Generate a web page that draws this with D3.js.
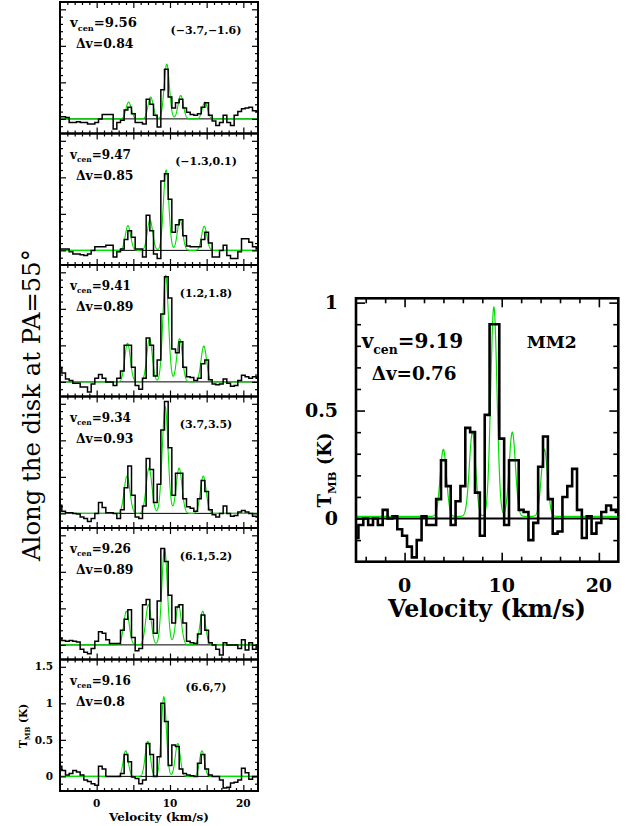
<!DOCTYPE html>
<html><head><meta charset="utf-8">
<script src="https://cdn.jsdelivr.net/npm/d3@7"></script>
<style>body{margin:0;background:#fff}svg{display:block}</style>
</head><body>
<script>
// ---------------- DATA ----------------
const velStart = -5, velStep = 0.5;            // channel grid (km/s)
const velDomain = [-5, 22];
const hfsOffsets = [-5.2, -2.2, 0, 1.9, 5.2];   // hyperfine offsets of the fit (km/s)

const panelPositions = ["(\u22123.7,\u22121.6)", "(\u22121.3,0.1)", "(1.2,1.8)", "(3.7,3.5)", "(6.1,5.2)", "(6.6,7)"];
const panelVcen = [9.56, 9.47, 9.41, 9.34, 9.26, 9.16];
const panelDv   = [0.84, 0.85, 0.89, 0.93, 0.89, 0.8];
const panelAmps = [
  [0.23, 0.30, 0.75, 0.32, 0.23],
  [0.34, 0.42, 1.10, 0.42, 0.33],
  [0.53, 0.59, 1.46, 0.59, 0.49],
  [0.51, 0.62, 1.46, 0.62, 0.51],
  [0.46, 0.55, 1.32, 0.55, 0.46],
  [0.35, 0.48, 1.09, 0.45, 0.35]
];
const spec1 = [0.03,0.03,0.02,-0.05,-0.05,-0.04,-0.05,-0.05,-0.07,-0.07,-0.05,0.0,0.06,0.06,0.06,-0.14,-0.05,-0.02,0.12,0.16,0.07,-0.05,-0.05,-0.07,0.27,0.2,0.05,-0.11,0.4,0.68,0.3,0.15,0.22,0.27,0.15,0.09,0.06,0.05,0.07,0.16,0.22,0.05,-0.03,-0.09,-0.05,0.05,-0.05,-0.09,0.05,0.1,0.14,0.15,0.16,0.11,0.1];
const spec2 = [0.02,0.02,0.02,-0.02,-0.05,-0.05,-0.06,-0.07,-0.05,0.0,0.05,0.05,0.05,0.07,0.07,-0.09,-0.02,0.02,0.15,0.27,0.18,0.02,0.02,-0.09,0.48,0.27,-0.05,-0.11,0.95,1.05,0.7,0.25,0.35,0.42,0.2,0.06,0.05,0.05,0.05,0.15,0.25,0.1,-0.09,-0.09,0.0,0.07,-0.07,-0.11,-0.11,-0.02,0.16,0.16,0.11,0.05,0.02];
const spec3 = [0.2,0.12,0.04,0.02,-0.02,-0.02,-0.07,-0.07,-0.14,-0.03,0.05,0.1,0.05,0.0,0.0,-0.05,0.05,0.15,0.5,0.5,0.2,-0.05,-0.1,0.05,0.6,0.5,0.08,0.3,0.93,1.44,1.15,0.45,0.4,0.55,0.2,0.07,0.06,0.02,0.05,0.25,0.3,0.03,-0.03,-0.04,-0.03,0.04,-0.02,-0.06,-0.05,0.02,0.09,0.07,0.05,0.07,0.05];
const spec4 = [0.11,0.03,0.01,0.01,0.0,-0.01,-0.05,-0.07,-0.11,-0.07,0.0,0.15,0.08,0.01,0.01,0.0,-0.07,0.05,0.35,0.65,0.25,-0.05,-0.07,0.1,0.75,0.6,0.15,0.4,1.14,1.53,0.9,0.25,0.55,0.55,0.2,0.09,0.07,0.03,0.2,0.45,0.3,0.05,-0.02,-0.05,0.0,0.1,0.0,-0.04,-0.03,0.02,0.04,0.02,0.0,-0.04,-0.05];
const spec5 = [0.09,0.06,0.05,0.06,0.05,0.04,-0.06,-0.1,-0.12,-0.05,0.05,0.18,0.16,0.07,0.02,0.02,0.02,0.2,0.35,0.48,0.1,-0.08,-0.05,0.55,0.62,0.35,0.16,0.6,1.32,1.14,0.68,0.3,0.52,0.55,0.3,0.05,0.03,0.02,0.15,0.41,0.2,0.03,0.0,-0.06,-0.14,0.03,0.0,0.0,0.0,-0.05,0.07,-0.07,0.03,-0.06,0.0];
const spec6 = [0.14,0.08,0.02,0.04,0.08,0.06,0.02,-0.05,-0.07,-0.1,-0.12,0.14,0.1,0.0,0.0,0.0,0.0,0.04,0.3,0.2,-0.01,-0.03,-0.1,-0.05,0.45,0.3,0.0,0.27,1.0,0.75,0.15,0.43,0.41,0.1,0.04,0.02,0.01,0.0,0.18,0.3,0.1,0.02,0.0,0.0,-0.05,-0.16,-0.15,-0.09,-0.08,-0.05,0.11,0.05,-0.04,0.0,0.0];
const panelSpectra = [spec1, spec2, spec3, spec4, spec5, spec6];

const mm2Name = "MM2";
const mm2Vcen = 9.19, mm2Dv = 0.76, mm2Base = 0.01;
const mm2Amps = [0.31, 0.39, 0.97, 0.39, 0.31];
const mm2Spec = [-0.09,-0.03,0.0,-0.03,0.0,-0.03,0.04,0.0,0.01,-0.05,-0.08,-0.13,-0.18,-0.1,0.01,-0.03,-0.03,0.09,0.27,0.15,-0.03,0.08,0.15,0.42,0.4,0.12,-0.08,0.48,0.9,0.9,0.37,-0.03,0.27,0.27,0.04,0.03,-0.1,-0.02,0.24,0.38,0.09,-0.07,-0.06,0.1,0.15,0.23,0.04,-0.09,0.01,-0.07,-0.02,0.03,0.06,0.04,0.03];

const leftYTickLabels = ["0", "0.5", "1", "1.5"];
const xTickLabels = ["0", "10", "20"];
const mm2YTickLabels = ["0", "0.5", "1"];
const sideTitle = "Along the disk at PA=55\u00b0";

// ---------------- DRAW ----------------
const W = 635, H = 826;
const FONT = "'DejaVu Serif', serif";
const GREEN = "#00e000";
const svg = d3.select("body").append("svg").attr("width", W).attr("height", H);
let clipId = 0;

function model(vc, w, amps, base) {
  return v => base + d3.sum(hfsOffsets, (o, k) => amps[k] * Math.exp(-4 * Math.LN2 * ((v - vc - o) / w) ** 2));
}

function fitFont(sel, target) {
  const len = sel.node().getComputedTextLength();
  const fs = parseFloat(sel.attr("font-size"));
  sel.attr("font-size", fs * target / len);
  return fs * target / len;
}

function drawPanel(c) {
  const x = d3.scaleLinear().domain(velDomain).range([c.x0, c.x1]);
  const y = d3.scaleLinear().domain(c.ydom).range([c.y1, c.y0]);
  const g = svg.append("g");
  const id = "clip" + (clipId++);
  svg.append("clipPath").attr("id", id).append("rect")
    .attr("x", c.x0).attr("y", c.y0).attr("width", c.x1 - c.x0).attr("height", c.y1 - c.y0);
  const inner = g.append("g").attr("clip-path", `url(#${id})`);
  // zero line
  inner.append("line").attr("x1", c.x0).attr("x2", c.x1).attr("y1", y(0)).attr("y2", y(0))
    .attr("stroke", "#000").attr("stroke-width", c.zeroW);
  // model fit
  const f = model(c.vc, c.w, c.amps, c.base);
  const vs = d3.range(velDomain[0], velDomain[1] + 0.001, 0.02);
  inner.append("path").datum(vs)
    .attr("d", d3.line().x(v => x(v)).y(v => y(f(v))))
    .attr("fill", "none").attr("stroke", GREEN).attr("stroke-width", c.greenW);
  // observed spectrum
  const pts = c.spec.map((t, i) => [velStart + i * velStep, t]);
  inner.append("path").datum(pts)
    .attr("d", d3.line().curve(d3.curveStep).x(d => x(d[0])).y(d => y(d[1])))
    .attr("fill", "none").attr("stroke", "#000").attr("stroke-width", c.blackW)
    .attr("stroke-linejoin", "miter");
  // ticks
  const tickW = c.tickW;
  const addAxis = (axis, tx, ty) => {
    const a = g.append("g").attr("transform", `translate(${tx},${ty})`).call(axis);
    a.select(".domain").remove();
    a.selectAll("line").attr("stroke", "#000").attr("stroke-width", tickW);
    a.selectAll("text").remove();
  };
  const inside = (vals, dom) => vals.filter(v => v > dom[0] + 1e-6 && v < dom[1] - 1e-6);
  const xMin = inside(c.xMinor, velDomain), xMaj = inside(c.xMajor, velDomain);
  const yMin = inside(c.yMinor, c.ydom), yMaj = inside(c.yMajor, c.ydom);
  [[xMin, c.minorLen], [xMaj, c.majorLen]].forEach(([vals, len]) => {
    addAxis(d3.axisBottom(x).tickValues(vals).tickSize(-len), 0, c.y1);
    addAxis(d3.axisTop(x).tickValues(vals).tickSize(-len), 0, c.y0);
  });
  [[yMin, c.minorLen], [yMaj, c.majorLen]].forEach(([vals, len]) => {
    addAxis(d3.axisLeft(y).tickValues(vals).tickSize(-len), c.x0, 0);
    addAxis(d3.axisRight(y).tickValues(vals).tickSize(-len), c.x1, 0);
  });
  // frame
  g.append("rect").attr("x", c.x0).attr("y", c.y0).attr("width", c.x1 - c.x0).attr("height", c.y1 - c.y0)
    .attr("fill", "none").attr("stroke", "#000").attr("stroke-width", c.frameW);
  return { x, y, g };
}

function vcenText(parent, xPos, yPos, fs, value, target) {
  const t = parent.append("text").attr("x", xPos).attr("y", yPos)
    .attr("font-family", FONT).attr("font-weight", "bold").attr("font-size", fs);
  t.append("tspan").text("v");
  t.append("tspan").attr("dy", fs * 0.28).attr("font-size", fs * 0.62).text("cen");
  t.append("tspan").attr("dy", -fs * 0.28).text("=" + value);
  if (target) {
    const len = t.node().getComputedTextLength();
    const k = target / len;
    t.attr("font-size", fs * k);
    t.selectAll("tspan").each(function (d, i) {
      const s = d3.select(this);
      if (i === 1) s.attr("font-size", fs * 0.62 * k).attr("dy", fs * 0.28 * k);
      if (i === 2) s.attr("dy", -fs * 0.28 * k);
    });
  }
  return t;
}

// ---- left column ----
const LX0 = 60, LX1 = 258, LTOP = 2, LH = 131.5;
const leftMinorX = d3.range(-5, 23, 1).filter(v => v % 5 !== 0);
const leftMajorX = d3.range(-5, 23, 5);
const leftMinorY = d3.range(-2, 17, 1).map(v => v / 10).filter(v => Math.abs(v * 2 - Math.round(v * 2)) > 1e-6);
const leftMajorY = [0, 0.5, 1, 1.5];

let lastPanel;
panelSpectra.forEach((spec, i) => {
  const y0 = LTOP + i * LH, y1 = y0 + LH;
  const p = drawPanel({
    x0: LX0, x1: LX1, y0, y1, ydom: [-0.2, 1.6], spec,
    vc: panelVcen[i], w: panelDv[i], amps: panelAmps[i], base: 0,
    frameW: 2, blackW: 1.5, greenW: 1.1, zeroW: 1, tickW: 1.2,
    xMinor: leftMinorX, xMajor: leftMajorX, yMinor: leftMinorY, yMajor: leftMajorY,
    minorLen: 3, majorLen: 6
  });
  vcenText(p.g, 70, y0 + 25, 12, panelVcen[i].toFixed(2), i === 0 ? 67 : null);
  p.g.append("text").attr("x", 76).attr("y", y0 + 46)
    .attr("font-family", FONT).attr("font-weight", "bold").attr("font-size", 12.4)
    .text("\u0394v=" + panelDv[i]);
  p.g.append("text").attr("x", 206).attr("y", y0 + 31.5).attr("text-anchor", "middle")
    .attr("font-family", FONT).attr("font-weight", "bold").attr("font-size", 11)
    .text(panelPositions[i]);
  lastPanel = p;
});
// left axis labels (bottom panel)
{
  const { x, y, g } = lastPanel;
  leftYTickLabels.forEach(s => {
    g.append("text").attr("x", 53).attr("y", y(+s)).attr("dy", "0.35em").attr("text-anchor", "end")
      .attr("font-family", FONT).attr("font-weight", "bold").attr("font-size", 10.5).text(s);
  });
  xTickLabels.forEach(s => {
    g.append("text").attr("x", x(+s)).attr("y", 807).attr("text-anchor", "middle")
      .attr("font-family", FONT).attr("font-weight", "bold").attr("font-size", 10.5).text(s);
  });
  const xl = g.append("text").attr("x", (LX0 + LX1) / 2).attr("y", 821).attr("text-anchor", "middle")
    .attr("font-family", FONT).attr("font-weight", "bold").attr("font-size", 10).text("Velocity (km/s)");
  fitFont(xl, 100);
  const yl = g.append("text").attr("transform", "translate(27,726) rotate(-90)").attr("text-anchor", "middle")
    .attr("font-family", FONT).attr("font-weight", "bold").attr("font-size", 10.5);
  yl.append("tspan").text("T");
  yl.append("tspan").attr("dy", 2.5).attr("font-size", 7).text("MB");
  yl.append("tspan").attr("dy", -2.5).text(" (K)");
}
// side title
{
  const t = svg.append("text").attr("transform", "translate(40,405) rotate(-90)").attr("text-anchor", "middle")
    .attr("font-family", FONT).attr("font-size", 19).attr("fill", "#000").text(sideTitle);
  fitFont(t, 312);
}

// ---- right panel ----
{
  const p = drawPanel({
    x0: 356, x1: 618.3, y0: 298.3, y1: 561.7, ydom: [-0.2, 1.02], spec: mm2Spec,
    vc: mm2Vcen, w: mm2Dv, amps: mm2Amps, base: mm2Base,
    frameW: 2.6, blackW: 2.6, greenW: 1.2, zeroW: 2, tickW: 1.6,
    xMinor: d3.range(-4, 23, 2).filter(v => v % 10 !== 0), xMajor: [0, 10, 20],
    yMinor: d3.range(-2, 11, 1).map(v => v / 10).filter(v => Math.abs(v * 2 - Math.round(v * 2)) > 1e-6),
    yMajor: [0, 0.5, 1],
    minorLen: 5, majorLen: 9
  });
  const { x, y, g } = p;
  vcenText(g, 361.7, 348.3, 18, mm2Vcen.toFixed(2), 101.6);
  const dvT = g.append("text").attr("x", 371.7).attr("y", 380)
    .attr("font-family", FONT).attr("font-weight", "bold").attr("font-size", 18).text("\u0394v=" + mm2Dv);
  fitFont(dvT, 85);
  const nm = g.append("text").attr("x", 526.7).attr("y", 348.3)
    .attr("font-family", FONT).attr("font-weight", "bold").attr("font-size", 18).text(mm2Name);
  fitFont(nm, 50);
  mm2YTickLabels.forEach(s => {
    g.append("text").attr("x", 338).attr("y", y(+s)).attr("dy", "0.35em").attr("text-anchor", "end")
      .attr("font-family", FONT).attr("font-weight", "bold").attr("font-size", 19).text(s);
  });
  xTickLabels.forEach(s => {
    g.append("text").attr("x", x(+s)).attr("y", 592).attr("text-anchor", "middle")
      .attr("font-family", FONT).attr("font-weight", "bold").attr("font-size", 19).text(s);
  });
  const xl = g.append("text").attr("x", 487).attr("y", 617).attr("text-anchor", "middle")
    .attr("font-family", FONT).attr("font-weight", "bold").attr("font-size", 19).text("Velocity (km/s)");
  fitFont(xl, 198);
  const yl = g.append("text").attr("transform", "translate(331,470) rotate(-90)").attr("text-anchor", "middle")
    .attr("font-family", FONT).attr("font-weight", "bold").attr("font-size", 18);
  yl.append("tspan").text("T");
  yl.append("tspan").attr("dy", 4.5).attr("font-size", 11.5).text("MB");
  yl.append("tspan").attr("dy", -4.5).text(" (K)");
}
</script>
</body></html>
